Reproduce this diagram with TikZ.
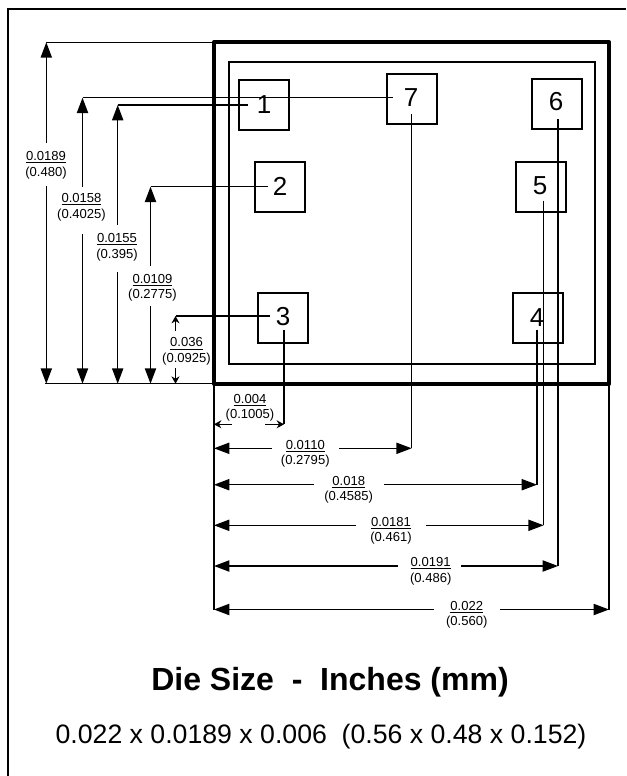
\documentclass[tikz,border=0pt]{standalone}
\usepackage{fontspec}
\setmainfont{Liberation Sans}
\usetikzlibrary{arrows.meta}
\tikzset{
  x=0.75pt,y=-0.75pt,
  frameline/.style={line width=1.5pt,line cap=butt},
  diebox/.style={line width=3.2pt,line join=round},
  innerbox/.style={line width=1.5pt},
  padbox/.style={draw,line width=1.5pt,minimum width=37.5pt,minimum height=37.5pt,inner sep=0pt},
  padnum/.style={font=\fontsize{19.5}{22}\selectfont,inner sep=0pt,yshift=-0.6pt},
  ext/.style={line width=1pt},
  bigarrow/.style={line width=1pt,-{Triangle[length=11.5pt,width=8.4pt]}},
  smallarrow/.style={line width=1pt,-{Stealth[length=5.5pt,width=6pt]}},
  dimlabel/.style={font=\fontsize{9.8}{11.7}\selectfont,align=center,inner sep=0pt,yshift=-0.9pt},
  titletext/.style={font=\fontsize{24}{26}\selectfont\bfseries,inner sep=0pt},
  subtext/.style={font=\fontsize{20}{24}\selectfont,inner sep=0pt},
}
\newcommand{\vdimension}[7]{% name,x,top,gapTop,gapBottom,bottom,style
  \coordinate (#1t) at (#2,#3);
  \coordinate (#1a) at (#2,#4);
  \coordinate (#1b) at (#2,#5);
  \coordinate (#1e) at (#2,#6);
  \draw[#7] (#1a) -- (#1t);
  \draw[#7] (#1b) -- (#1e);
}
\newcommand{\hdimension}[7]{% name,y,left,gapLeft,gapRight,right,style
  \coordinate (#1l) at (#3,#2);
  \coordinate (#1a) at (#4,#2);
  \coordinate (#1b) at (#5,#2);
  \coordinate (#1r) at (#6,#2);
  \draw[#7] (#1a) -- (#1l);
  \draw[#7] (#1b) -- (#1r);
}
\begin{document}
\begin{tikzpicture}
\useasboundingbox (0,0) rectangle (626,776);
% frame
\coordinate (fa) at (7.5,776);
\coordinate (fb) at (7.5,8.5);
\coordinate (fc) at (626,8.5);
\draw[frameline] (fa) -- (fb) -- (fc);
% die
\coordinate (dieA) at (214,42.3);
\coordinate (dieB) at (609,383.7);
\draw[diebox] (dieA) rectangle (dieB);
\coordinate (inA) at (228.5,61.5);
\coordinate (inB) at (594.5,364.3);
\draw[innerbox] (inA) rectangle (inB);
% pads
\node[padbox] (p1) at (263.5,104.7) {};
\node[padbox] (p2) at (280.3,186.5) {};
\node[padbox] (p3) at (282.8,317.6) {};
\node[padbox] (p4) at (538,317.6) {};
\node[padbox] (p5) at (540.5,186.5) {};
\node[padbox] (p6) at (557.2,103.7) {};
\node[padbox] (p7) at (411.5,98.8) {};
\node[padnum] (n1) at (264,104) {1};
\node[padnum] (n2) at (280,186) {2};
\node[padnum] (n3) at (283,316) {3};
\node[padnum] (n4) at (537,317) {4};
\node[padnum] (n5) at (540,185) {5};
\node[padnum] (n6) at (556,101) {6};
\node[padnum] (n7) at (411,97) {7};
% vertical dimensions
\vdimension{va}{46.3}{42.3}{143}{186}{383.7}{bigarrow}
\vdimension{vb}{82.5}{97.7}{186.7}{234}{383.7}{bigarrow}
\vdimension{vc}{117.7}{105}{225}{272}{383.7}{bigarrow}
\vdimension{vd}{150.5}{186.7}{266}{306}{383.7}{bigarrow}
\vdimension{ve}{175.5}{316}{331}{368}{383.7}{smallarrow}
% extension lines to the left
\coordinate (xb) at (392.7,97.7);
\coordinate (xc) at (248,105);
\coordinate (xd) at (268,186.7);
\coordinate (xe) at (270,316);
\draw[ext] (vat) -- (dieA);
\draw[ext] (vbt) -- (xb);
\draw[ext] (vct) -- (xc);
\draw[ext] (vdt) -- (xd);
\draw[ext] (vet) -- (xe);
\coordinate (bl) at (45,383.7);
\coordinate (bc) at (214,383.7);
\draw[ext] (bl) -- (bc);
% extension lines down
\coordinate (dl) at (214,609.5);
\coordinate (dr) at (609,609.5);
\coordinate (dieBL) at (214,383.7);
\draw[ext] (dieBL) -- (dl);
\draw[ext] (dieB) -- (dr);
\coordinate (l3a) at (284,330); \coordinate (l3b) at (284,424.3);
\coordinate (l7a) at (411.7,114); \coordinate (l7b) at (411.7,448.3);
\coordinate (l4a) at (537,330); \coordinate (l4b) at (537,484.7);
\coordinate (l5a) at (543.7,200.7); \coordinate (l5b) at (543.7,525.3);
\coordinate (l6a) at (558,119); \coordinate (l6b) at (558,566);
\draw[ext] (l3a) -- (l3b);
\draw[ext] (l7a) -- (l7b);
\draw[ext] (l4a) -- (l4b);
\draw[ext] (l5a) -- (l5b);
\draw[ext] (l6a) -- (l6b);
% horizontal dimensions
\hdimension{ha}{424.3}{214}{232}{265}{284}{smallarrow}
\hdimension{hb}{448.3}{214}{272}{339}{411.7}{bigarrow}
\hdimension{hc}{484.7}{214}{314}{384}{537}{bigarrow}
\hdimension{hd}{525.3}{214}{356}{426}{543.7}{bigarrow}
\hdimension{he}{566}{214}{398}{461}{558}{bigarrow}
\hdimension{hf}{609.5}{214}{434}{500}{609}{bigarrow}
% labels
\node[dimlabel] (la) at (46,164) {\underline{0.0189}\\(0.480)};
\node[dimlabel] (lb) at (81.5,206) {\underline{0.0158}\\(0.4025)};
\node[dimlabel] (lc) at (117,246) {\underline{0.0155}\\(0.395)};
\node[dimlabel] (ld) at (152.5,286.5) {\underline{0.0109}\\(0.2775)};
\node[dimlabel] (le) at (186.5,350.3) {\underline{0.036}\\(0.0925)};
\node[dimlabel] (lf) at (250,406.5) {\underline{0.004}\\(0.1005)};
\node[dimlabel] (lg) at (305.3,452.5) {\underline{0.0110}\\(0.2795)};
\node[dimlabel] (lh) at (348.7,488.5) {\underline{0.018}\\(0.4585)};
\node[dimlabel] (li) at (391,529.5) {\underline{0.0181}\\(0.461)};
\node[dimlabel] (lj) at (430.7,570) {\underline{0.0191}\\(0.486)};
\node[dimlabel] (lk) at (466.7,613.5) {\underline{0.022}\\(0.560)};
% captions
\node[titletext] (title) at (330,682) {Die Size\ \ -\ \ Inches (mm)};
\node[subtext] (sub) at (321,737) {0.022 x 0.0189 x 0.006\ \ (0.56 x 0.48 x 0.152)};
\end{tikzpicture}
\end{document}
